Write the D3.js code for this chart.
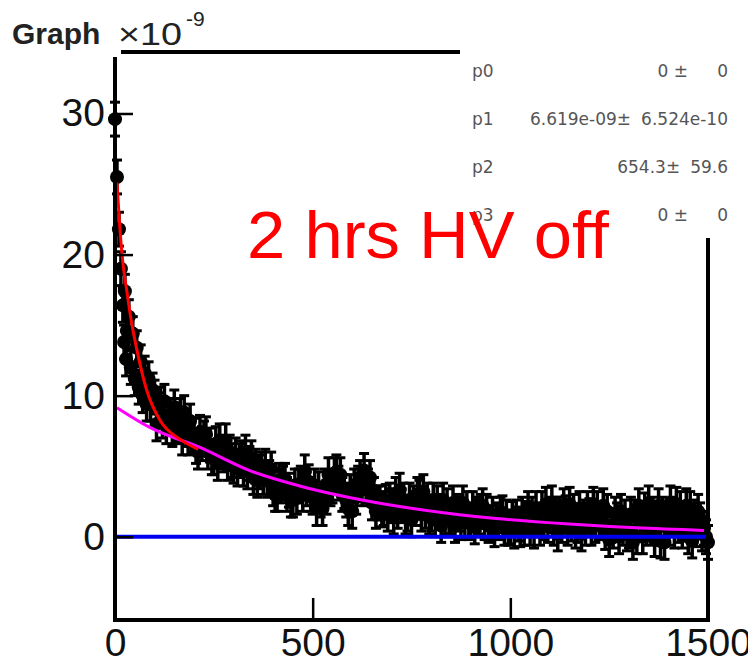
<!DOCTYPE html>
<html>
<head>
<meta charset="utf-8">
<script src="https://cdn.jsdelivr.net/npm/d3@7"></script>
<style>
body { margin: 0; background: #fff; }
svg { display: block; font-family: "Liberation Sans", Arial, sans-serif; }
</style>
</head>
<body>
<div id="chart"></div>
<script>
////////////////////////////////////////////////////////////
//////////////////////// Data //////////////////////////////
////////////////////////////////////////////////////////////

//Measurement times and signal (units of 1e-9)
var times = [0,5,10,15,20,23,25,28,30,35,40,45,50,55,60,65,70,75,80,85,90,95,
	100,110,120,130,140,150,160,170,180,190,200,210,220,230,240,250,260,270,280,290,
	300,310,320,330,340,350,360,370,380,390,400,410,420,430,440,450,460,470,480,490,
	500,510,520,530,540,550,560,570,580,590,600,610,620,630,640,650,660,670,680,690,
	700,710,720,730,740,750,760,770,780,790,800,810,820,830,840,850,860,870,880,890,
	900,910,920,930,940,950,960,970,980,990,1000,1010,1020,1030,1040,1050,1060,1070,1080,1090,
	1100,1110,1120,1130,1140,1150,1160,1170,1180,1190,1200,1210,1220,1230,1240,1250,1260,1270,1280,1290,
	1300,1310,1320,1330,1340,1350,1360,1370,1380,1390,1400,1410,1420,1430,1440,1450,1460,1470,1480,1490,1500];

var signal = [29.6,25.5,21.8,19.0,16.4,13.8,17.4,12.6,14.6,15.6,12.0,14.4,11.2,13.4,10.6,12.4,10.0,11.6,9.4,11.2,9.4,10.4,
	9.9,9.0,8.2,7.8,8.6,9.2,8.0,7.0,7.6,8.2,7.2,6.0,6.6,7.3,6.5,5.6,5.2,6.0,6.8,6.0,
	5.0,4.8,5.6,6.0,5.2,4.2,4.0,4.8,5.0,4.2,3.4,3.0,3.6,4.0,3.3,2.6,2.8,3.8,4.6,3.9,
	2.8,2.0,2.6,3.6,4.4,3.6,4.6,4.4,3.2,2.0,1.8,2.8,4.2,4.7,3.6,2.4,1.8,2.4,2.0,1.6,
	2.2,3.0,3.3,2.6,1.6,1.2,2.0,2.8,3.2,2.6,1.6,1.2,1.8,2.6,2.2,1.4,0.8,1.6,2.4,2.0,
	1.2,0.7,1.4,2.2,1.8,1.0,0.5,1.0,1.7,1.4,0.7,0.4,0.9,1.6,1.3,0.6,0.4,1.2,2.0,2.3,
	1.6,0.6,0.2,0.8,1.7,2.3,1.8,0.8,0.2,0.6,1.5,2.3,2.0,1.0,0.3,-0.2,0.4,1.2,1.8,1.4,
	0.4,-0.4,0.0,1.0,1.9,2.4,1.6,0.6,-0.3,-0.4,0.6,1.6,2.3,2.0,1.0,0.0,-0.3,0.5,1.2,0.6,-0.4];

//Readings taken in between the ones above
var midTimes = [105,115,125,135,145,155,165,175,185,195,205,215,225,235,245,255,265,275,285,295,
	305,315,325,335,345,355,365,375,385,395,405,415,425,435,445,455,465,475,485,495,
	505,515,525,535,545,555,565,575,585,595,605,615,625,635,645,655,665,675,685,695,
	705,715,725,735,745,755,765,775,785,795,805,815,825,835,845,855,865,875,885,895,
	905,915,925,935,945,955,965,975,985,995,1005,1015,1025,1035,1045,1055,1065,1075,1085,1095,
	1105,1115,1125,1135,1145,1155,1165,1175,1185,1195,1205,1215,1225,1235,1245,1255,1265,1275,1285,1295,
	1305,1315,1325,1335,1345,1355,1365,1375,1385,1395,1405,1415,1425,1435,1445,1455,1465,1475,1485,1495];

var midSignal = [8.0,9.4,9.6,8.6,7.6,7.8,8.6,8.8,7.0,7.2,6.4,7.4,7.0,6.0,5.6,6.6,6.8,5.8,5.2,5.4,
	5.8,5.4,4.8,4.6,5.6,5.0,4.6,4.2,4.0,4.8,3.0,4.0,3.8,3.0,2.6,3.6,3.6,3.0,3.4,3.0,
	3.6,3.4,2.0,2.8,3.4,4.4,3.8,3.0,2.6,3.2,3.6,3.8,3.4,3.6,4.2,3.0,2.4,1.9,2.5,2.6,
	1.4,1.8,2.2,1.4,2.6,2.4,3.0,1.6,1.8,1.4,2.6,2.4,0.8,1.4,1.2,2.4,1.8,1.0,1.2,1.0,
	2.0,1.6,1.8,1.0,0.8,1.6,1.2,1.6,0.6,0.6,1.3,1.4,0.5,0.6,2.0,1.6,2.0,0.6,1.0,0.8,
	2.4,1.6,1.6,2.2,0.6,0.9,0.4,2.0,1.4,2.0,0.6,0.8,1.2,2.2,1.8,0.8,1.6,0.0,0.6,0.2,
	1.6,1.4,2.2,0.0,0.6,1.0,-0.2,2.2,1.6,1.2,2.4,0.4,0.8,0.4,2.2,2.0,1.4,1.8,0.2,0.0];

var signalErr = 1.2;

//Fit curves
var fastFitX = [5,12,20,30,40,55,80,115,165,210];
var fastFitY = [25.1,22.0,19.4,17.4,15.5,13.3,10.4,8.2,6.9,6.2];

var slowFitX = [5,88,215,341,467,593,720,846,964,1149,1318,1490];
var slowFitY = [9.15,7.75,6.33,4.69,3.6,2.78,2.14,1.65,1.30,0.90,0.63,0.45];

var baselineX = [5,1500];
var baselineY = [0,0];

var xTicks = [0,500,1000,1500];
var yTicks = [0,10,20,30];

var parNames = ["p0","p1","p2","p3"];
var parValues = ["0","6.619e-09","654.3","0"];
var parErrors = ["0","6.524e-10","59.6","0"];

////////////////////////////////////////////////////////////
//////////////////////// Set-up ////////////////////////////
////////////////////////////////////////////////////////////

var width = 748, height = 665;
var frame = {left: 115, right: 708, top: 50, bottom: 620};

var svg = d3.select("#chart").append("svg")
	.attr("width", width)
	.attr("height", height);

var xScale = d3.scaleLinear().domain([0, 1500]).range([frame.left, frame.right]);
var yScale = d3.scaleLinear().domain([-5.9, 34.5]).range([frame.bottom, frame.top]);

////////////////////////////////////////////////////////////
//////////////////////// Points ////////////////////////////
////////////////////////////////////////////////////////////

var points = times.map(function(t, i) { return {x: t, y: signal[i], e: signalErr}; })
	.concat(midTimes.map(function(t, i) { return {x: t, y: midSignal[i], e: signalErr}; }))
	.sort(function(a, b) { return a.x - b.x; });

var pts = svg.append("g").attr("class", "points")
	.selectAll(".pt")
	.data(points)
	.enter().append("g")
	.attr("class", "pt");

pts.append("line")
	.attr("x1", function(d) { return xScale(d.x); })
	.attr("x2", function(d) { return xScale(d.x); })
	.attr("y1", function(d) { return yScale(d.y - d.e); })
	.attr("y2", function(d) { return yScale(d.y + d.e); })
	.style("stroke", "#000")
	.style("stroke-width", 3.5);

//Caps of the error bars
[-1, 1].forEach(function(s) {
	pts.append("line")
		.attr("x1", function(d) { return xScale(d.x) - 5; })
		.attr("x2", function(d) { return xScale(d.x) + 5; })
		.attr("y1", function(d) { return yScale(d.y + s * d.e); })
		.attr("y2", function(d) { return yScale(d.y + s * d.e); })
		.style("stroke", "#000")
		.style("stroke-width", 3);
});

pts.append("circle")
	.attr("cx", function(d) { return xScale(d.x); })
	.attr("cy", function(d) { return yScale(d.y); })
	.attr("r", 7)
	.style("fill", "#000");

////////////////////////////////////////////////////////////
//////////////////////// Fits //////////////////////////////
////////////////////////////////////////////////////////////

var line = d3.line()
	.x(function(d) { return xScale(d[0]); })
	.y(function(d) { return yScale(d[1]); })
	.curve(d3.curveMonotoneX);

svg.append("path")
	.datum(d3.zip(slowFitX, slowFitY))
	.attr("d", line)
	.style("fill", "none")
	.style("stroke", "#ff00ff")
	.style("stroke-width", 3);

svg.append("path")
	.datum(d3.zip(fastFitX, fastFitY))
	.attr("d", line)
	.style("fill", "none")
	.style("stroke", "#ff0000")
	.style("stroke-width", 3);

svg.append("path")
	.datum(d3.zip(baselineX, baselineY))
	.attr("d", line)
	.style("fill", "none")
	.style("stroke", "#0000f0")
	.style("stroke-width", 4);

////////////////////////////////////////////////////////////
//////////////////////// Axes //////////////////////////////
////////////////////////////////////////////////////////////

var yAxis = svg.append("g")
	.attr("transform", "translate(" + frame.left + ",0)")
	.call(d3.axisLeft(yScale).tickValues(yTicks).tickSize(-18).tickPadding(10).tickFormat(d3.format("d")));

var xAxis = svg.append("g")
	.attr("transform", "translate(0," + frame.bottom + ")")
	.call(d3.axisBottom(xScale).tickValues(xTicks).tickSize(-22).tickPadding(8).tickFormat(d3.format("d")));

[yAxis, xAxis].forEach(function(ax) {
	ax.select(".domain").remove();
	ax.selectAll("line").style("stroke", "#000").style("stroke-width", 2.5);
	ax.selectAll("text")
		.style("font-family", "'Liberation Sans', Arial, sans-serif")
		.style("font-size", "39px")
		.style("fill", "#111");
});

//Frame
var frameLines = [
	[frame.left, 57, frame.left, frame.bottom + 2],
	[frame.left - 2, frame.bottom, frame.right + 2, frame.bottom],
	[frame.right, 238, frame.right, frame.bottom + 2],
	[121, 52, 460, 52]
];
svg.selectAll(".frame-line")
	.data(frameLines)
	.enter().append("line")
	.attr("class", "frame-line")
	.attr("x1", function(d) { return d[0]; })
	.attr("y1", function(d) { return d[1]; })
	.attr("x2", function(d) { return d[2]; })
	.attr("y2", function(d) { return d[3]; })
	.style("stroke", "#000")
	.style("stroke-width", 4);

////////////////////////////////////////////////////////////
//////////////////////// Texts /////////////////////////////
////////////////////////////////////////////////////////////

svg.append("text")
	.attr("x", 12)
	.attr("y", 44)
	.style("font-weight", "bold")
	.style("font-size", "30px")
	.style("fill", "#222")
	.text("Graph");

svg.append("text")
	.attr("x", 118)
	.attr("y", 45)
	.attr("textLength", 64)
	.attr("lengthAdjust", "spacingAndGlyphs")
	.style("font-size", "32px")
	.style("fill", "#222")
	.text("\u00d710");

svg.append("text")
	.attr("x", 186)
	.attr("y", 26)
	.style("font-size", "21px")
	.style("fill", "#222")
	.text("-9");

//Stats box
var stats = svg.append("g").attr("class", "stats");
stats.append("rect")
	.attr("x", 460).attr("y", 44)
	.attr("width", 288).attr("height", 194)
	.style("fill", "#fff");

var rowY = [77, 125, 173, 221];
parNames.forEach(function(name, i) {
	stats.append("text")
		.attr("x", 472).attr("y", rowY[i])
		.style("font-family", "'DejaVu Sans', sans-serif")
		.style("font-size", "17px")
		.style("fill", "#555")
		.text(name);
	var err = stats.append("text")
		.attr("x", 728).attr("y", rowY[i])
		.attr("text-anchor", "end")
		.style("font-family", "'DejaVu Sans', sans-serif")
		.style("font-size", "17px")
		.style("fill", "#555")
		.text(parErrors[i]);
	var w = Math.max(err.node().getComputedTextLength(), 30) + 10;
	stats.append("text")
		.attr("x", 728 - w).attr("y", rowY[i])
		.attr("text-anchor", "end")
		.style("font-family", "'DejaVu Sans', sans-serif")
		.style("font-size", "17px")
		.style("fill", "#555")
		.text(parValues[i] + (parValues[i].length > 3 ? "\u00b1" : " \u00b1"));
});

svg.append("text")
	.attr("x", 247)
	.attr("y", 258)
	.attr("textLength", 362)
	.attr("lengthAdjust", "spacingAndGlyphs")
	.style("font-size", "67px")
	.style("fill", "#ff0000")
	.text("2 hrs HV off");
</script>
</body>
</html>
